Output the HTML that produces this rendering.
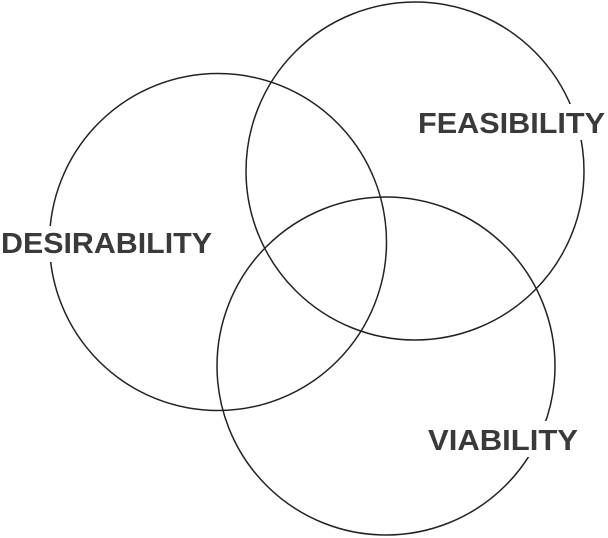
<!DOCTYPE html>
<html><head><meta charset="utf-8"><style>
html,body{margin:0;padding:0;background:#fff;}
svg{display:block;}
text{font-family:"Liberation Sans",sans-serif;font-weight:bold;fill:#3a3a3a;font-size:29px;}
</style></head><body>
<svg width="608" height="538" viewBox="0 0 608 538" xmlns="http://www.w3.org/2000/svg">
<g fill="none" stroke="#222" stroke-width="1.5">
<circle cx="218" cy="242" r="168.5"/>
<circle cx="415" cy="171" r="169"/>
<circle cx="386" cy="366" r="169"/>
</g>
<g fill="#fff">
<rect x="0" y="226" width="216" height="36"/>
<rect x="414" y="104" width="194" height="36"/>
<rect x="424" y="421" width="158" height="36"/>
</g>
<text x="1" y="253" textLength="211" lengthAdjust="spacingAndGlyphs">DESIRABILITY</text>
<text x="418" y="133" textLength="187" lengthAdjust="spacingAndGlyphs">FEASIBILITY</text>
<text x="428" y="450" textLength="150" lengthAdjust="spacingAndGlyphs">VIABILITY</text>
</svg>
</body></html>
